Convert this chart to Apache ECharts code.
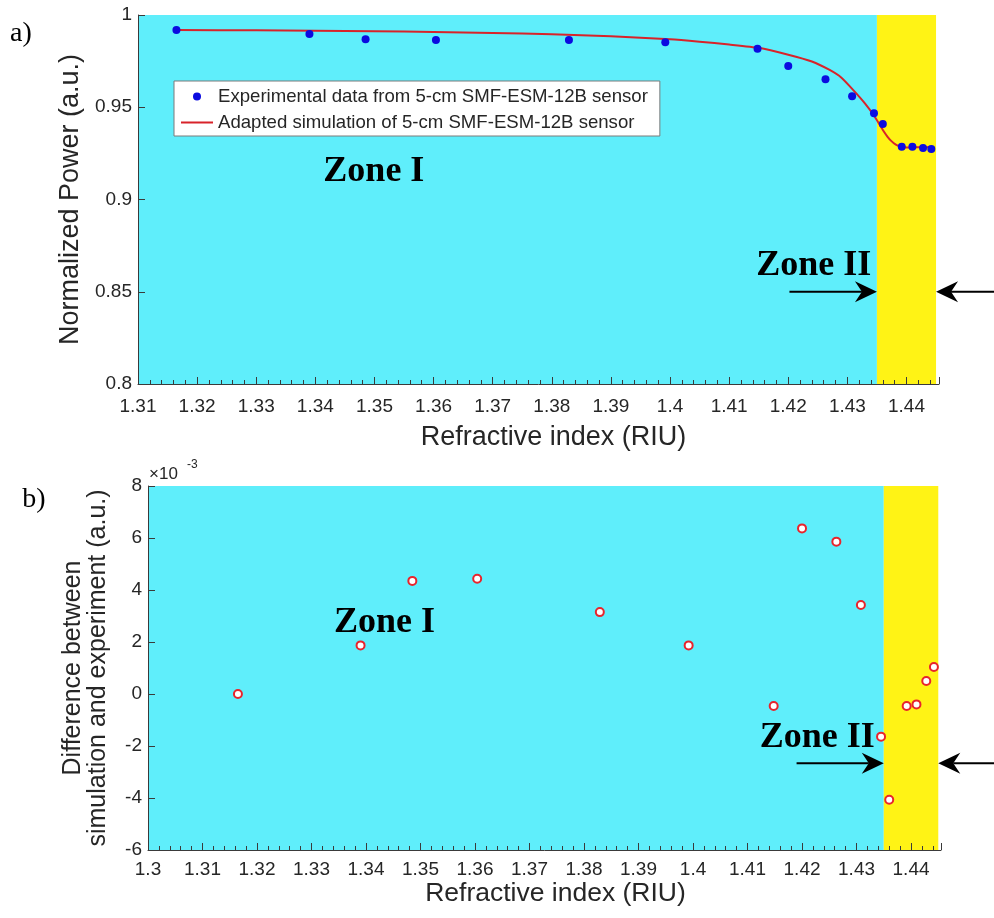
<!DOCTYPE html>
<html><head><meta charset="utf-8">
<script src="https://cdn.jsdelivr.net/npm/echarts@6/dist/echarts.min.js"></script>
<style>html,body{margin:0;padding:0;background:#fff}#c{width:994px;height:918px}</style>
</head><body><div id="c"></div>
<script>
// ---- data ----
const expRI    = [1.3165, 1.3390, 1.3485, 1.3604, 1.3829, 1.3992, 1.4148, 1.4200, 1.4263, 1.4308, 1.4345, 1.4360, 1.4392, 1.4410, 1.4428, 1.4442];
const expPower = [0.9919, 0.9897, 0.9868, 0.9864, 0.9864, 0.9852, 0.9817, 0.9724, 0.9652, 0.9560, 0.9468, 0.9409, 0.9286, 0.9286, 0.9279, 0.9274];
const simRI    = [1.3165, 1.330, 1.340, 1.350, 1.360, 1.370, 1.380, 1.390, 1.400, 1.405, 1.410, 1.415, 1.420, 1.424, 1.427, 1.429, 1.431, 1.433, 1.4345, 1.4360, 1.4368, 1.4375, 1.4382, 1.4389, 1.4396, 1.4405, 1.4420, 1.4442];
const simPower = [0.9919, 0.9917, 0.9915, 0.9912, 0.9908, 0.9903, 0.9896, 0.9885, 0.9868, 0.9855, 0.9840, 0.9822, 0.9785, 0.9748, 0.9702, 0.9660, 0.9593, 0.9520, 0.9455, 0.9377, 0.9340, 0.9315, 0.9297, 0.9287, 0.9283, 0.9282, 0.9283, 0.9284];
const diffE3   = [0.00, 1.87, 4.35, 4.43, 3.15, 1.87, -0.46, 6.37, 5.86, 3.42, -1.64, -4.07, -0.46, -0.40, 0.50, 1.04];
const zoneEdges = [1.435, 1.445];
const xTopRange = [1.31, 1.4455];
const xBotRange = [1.30, 1.4455];
const yTopRange = [0.8, 1.0];
const yBotRange = [-6, 8];
const expName = 'Experimental data from 5-cm SMF-ESM-12B sensor';
const simName = 'Adapted simulation of 5-cm SMF-ESM-12B sensor';

const CYAN = '#5FEEFB', YELLOW = '#FFF315', AX = '#3a3a3a', TXT = '#262626';
const SANS = "'Liberation Sans', Arial, sans-serif";
const SERIF = "'Liberation Serif', 'Times New Roman', serif";

const zip = (a, b) => a.map((v, i) => [v, b[i]]);

function xAxisCfg(grid, range, nameSize, gap, shift) {
  return {
    type: 'value', gridIndex: grid, min: range[0], max: range[1], interval: 0.01, z: 10,
    name: 'Refractive index (RIU)', nameLocation: 'middle', nameGap: gap,
    nameTextStyle: {fontFamily: SANS, fontSize: nameSize, color: TXT, padding: [0, 0, 0, shift]},
    axisLine: {show: true, onZero: false, lineStyle: {color: AX, width: 1}},
    axisTick: {show: true, inside: true, length: 7, lineStyle: {color: AX}},
    minorTick: {show: true, splitNumber: 5, length: 4, lineStyle: {color: AX}},
    axisLabel: {fontFamily: SANS, fontSize: 19, color: TXT, margin: grid === 0 ? 13 : 10, showMaxLabel: false},
    splitLine: {show: false}
  };
}
function yAxisCfg(grid, range, interval, name, nameSize, gap) {
  return {
    type: 'value', gridIndex: grid, min: range[0], max: range[1], interval: interval, z: 10,
    name: name, nameLocation: 'middle', nameGap: gap,
    nameTextStyle: {fontFamily: SANS, fontSize: nameSize, color: TXT, lineHeight: 25},
    axisLine: {show: true, onZero: false, lineStyle: {color: AX, width: 1}},
    axisTick: {show: true, inside: true, length: 7, lineStyle: {color: AX}},
    axisLabel: {fontFamily: SANS, fontSize: 19, color: TXT, margin: 6},
    splitLine: {show: false}
  };
}
function zoneSeries(xi, start) {
  return {
    type: 'line', xAxisIndex: xi, yAxisIndex: xi, data: [], z: 1, silent: true,
    markArea: {silent: true, data: [
      [{xAxis: start, itemStyle: {color: CYAN}}, {xAxis: zoneEdges[0]}],
      [{xAxis: zoneEdges[0], itemStyle: {color: YELLOW}}, {xAxis: zoneEdges[1]}]
    ]}
  };
}

const chart = echarts.init(document.getElementById('c'), null, {renderer: 'canvas'});
const option = {
  animation: false,
  backgroundColor: '#fff',
  grid: [
    {left: 138, top: 15, width: 801, height: 369},
    {left: 148, top: 486, width: 793, height: 364}
  ],
  xAxis: [xAxisCfg(0, xTopRange, 27, 40, 30), xAxisCfg(1, xBotRange, 26.5, 26, 22)],
  yAxis: [
    yAxisCfg(0, yTopRange, 0.05, 'Normalized Power (a.u.)', 27, 51),
    yAxisCfg(1, yBotRange, 2, 'Difference between\nsimulation and experiment (a.u.)', 25, 37)
  ],
  legend: {
    left: 174, top: 81, orient: 'vertical', itemWidth: 32, itemHeight: 8, itemGap: 7,
    padding: [6, 12, 4, 7], backgroundColor: '#fff', borderColor: '#7a7a7a', borderWidth: 1,
    textStyle: {fontFamily: SANS, fontSize: 18.6, color: TXT},
    data: [
      {name: expName, icon: 'circle'},
      {name: simName, icon: 'path://M0,0L0.01,0L0,0.01Z M0,3L32,3L32,5L0,5Z M32,8L31.99,8L32,7.99Z'}
    ]
  },
  series: [
    zoneSeries(0, xTopRange[0]),
    {
      name: simName, type: 'line', xAxisIndex: 0, yAxisIndex: 0, z: 3,
      data: zip(simRI, simPower), symbol: 'none', smooth: 0.2,
      lineStyle: {color: '#D8232A', width: 2}, itemStyle: {color: '#D8232A'}
    },
    {
      name: expName, type: 'scatter', xAxisIndex: 0, yAxisIndex: 0, z: 4,
      data: zip(expRI, expPower), symbol: 'circle', symbolSize: 8,
      itemStyle: {color: '#0B0BE0', opacity: 1}
    },
    zoneSeries(1, xBotRange[0]),
    {
      name: 'diff', type: 'scatter', xAxisIndex: 1, yAxisIndex: 1, z: 4,
      data: zip(expRI, diffE3), symbol: 'circle', symbolSize: 8,
      itemStyle: {color: '#ffffff', borderColor: '#E8242C', borderWidth: 2, opacity: 1}
    }
  ]
};
chart.setOption(option);

// ---- annotations anchored through the axes ----
const P = (g, x, y) => chart.convertToPixel({gridIndex: g}, [x, y]);
function arrow(tail, tip) {
  const d = Math.sign(tip[0] - tail[0]);
  const L = 22, W = 10.5, B = 15;
  return [
    {type: 'line', z: 50, shape: {x1: tail[0], y1: tip[1], x2: tip[0] - d * B, y2: tip[1]}, style: {stroke: '#000', lineWidth: 2}},
    {type: 'polygon', z: 50, shape: {points: [[tip[0], tip[1]], [tip[0] - d * L, tip[1] - W], [tip[0] - d * B, tip[1]], [tip[0] - d * L, tip[1] + W]]}, style: {fill: '#000'}}
  ];
}
function zoneText(txt, pt) {
  return {type: 'text', z: 50, x: pt[0], y: pt[1], style: {text: txt, fontFamily: SERIF, fontWeight: 'bold', fontSize: 36, fill: '#000', textAlign: 'center', textVerticalAlign: 'middle'}};
}
const W = chart.getWidth();
const tA = P(0, zoneEdges[0], 0.85), tB = P(0, zoneEdges[1], 0.85);
const bA = P(1, zoneEdges[0], -2.66), bB = P(1, zoneEdges[1], -2.66);
const graphics = [].concat(
  arrow([P(0, 1.4202, 0.85)[0], tA[1]], tA),
  arrow([W, tB[1]], tB),
  arrow([P(1, 1.419, -2.66)[0], bA[1]], bA),
  arrow([W, bB[1]], bB),
  [
    zoneText('Zone I', P(0, 1.3499, 0.9150)),
    zoneText('Zone II', P(0, 1.4243, 0.8640)),
    zoneText('Zone I', P(1, 1.3434, 2.75)),
    zoneText('Zone II', P(1, 1.4228, -1.68)),
    {type: 'text', z: 50, x: 21, y: 34, style: {text: 'a)', fontFamily: SERIF, fontSize: 28, fill: '#000', textAlign: 'center', textVerticalAlign: 'middle'}},
    {type: 'text', z: 50, x: 34, y: 500, style: {text: 'b)', fontFamily: SERIF, fontSize: 28, fill: '#000', textAlign: 'center', textVerticalAlign: 'middle'}},
    {type: 'text', z: 50, x: 149, y: 474, style: {text: '\u00d710', fontFamily: SANS, fontSize: 17, fill: TXT, textAlign: 'left', textVerticalAlign: 'middle'}},
    {type: 'text', z: 50, x: 187, y: 465, style: {text: '-3', fontFamily: SANS, fontSize: 12, fill: TXT, textAlign: 'left', textVerticalAlign: 'middle'}}
  ]
);
chart.setOption({graphic: graphics});
</script>
</body></html>
